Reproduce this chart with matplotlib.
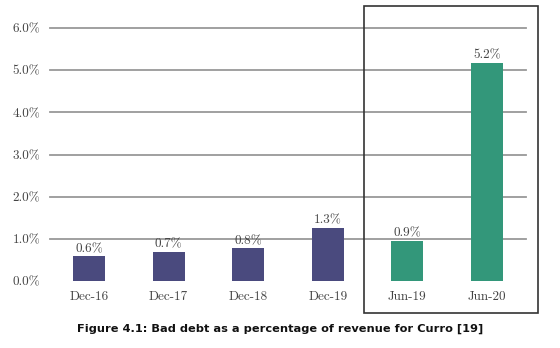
import matplotlib
matplotlib.use("Agg")
import matplotlib.pyplot as plt
from matplotlib.patches import Rectangle

# Data
periods = ["Dec-16", "Dec-17", "Dec-18", "Dec-19", "Jun-19", "Jun-20"]
bad_debt = [0.59, 0.69, 0.78, 1.26, 0.95, 5.17]
bar_labels = ["0.6%", "0.7%", "0.8%", "1.3%", "0.9%", "5.2%"]
y_ticks = [0, 1, 2, 3, 4, 5, 6]
y_tick_labels = ["0.0%", "1.0%", "2.0%", "3.0%", "4.0%", "5.0%", "6.0%"]

navy = "#4a4a7e"
green = "#33977a"
colors = [navy] * 4 + [green] * 2

fig = plt.figure(figsize=(5.6, 3.48), dpi=100)
ax = fig.add_axes([50 / 560, 1 - 281 / 348, 476 / 560, 253 / 348])

# Gridlines behind the bars
for t in y_ticks[1:]:
    ax.axhline(t, color="#999999", linewidth=1.3, zorder=0, clip_on=False)

x = range(len(periods))
ax.bar(x, bad_debt, width=0.4, color=colors, zorder=2)

# Value labels on top of bars
for xi, v, lab in zip(x, bad_debt, bar_labels):
    ax.text(xi, v + 0.03, lab, ha="center", va="bottom",
            fontfamily="cmr10", fontsize=9.5, color="#444444")

ax.set_xlim(-0.49, 5.49)
ax.set_ylim(0, 6)
ax.set_yticks(y_ticks)
ax.set_yticklabels(y_tick_labels, fontfamily="cmr10", fontsize=9.5, color="#444444")
ax.set_xticks(list(x))
ax.set_xticklabels(periods, fontfamily="cmr10", fontsize=9.5, color="#444444")
ax.tick_params(length=0, pad=7)
for s in ax.spines.values():
    s.set_visible(False)

# Box highlighting the June periods
fig.patches.append(Rectangle((364 / 560, 1 - 313 / 348), 174 / 560, 307 / 348,
                             transform=fig.transFigure, fill=False,
                             edgecolor="#333333", linewidth=1.2))

fig.text(0.5, 1 - 329 / 348, "Figure 4.1: Bad debt as a percentage of revenue for Curro [19]",
         ha="center", va="center", fontfamily="DejaVu Sans", fontweight="bold",
         fontsize=8.2, color="#111111")

fig.savefig("out.png", dpi=100)
